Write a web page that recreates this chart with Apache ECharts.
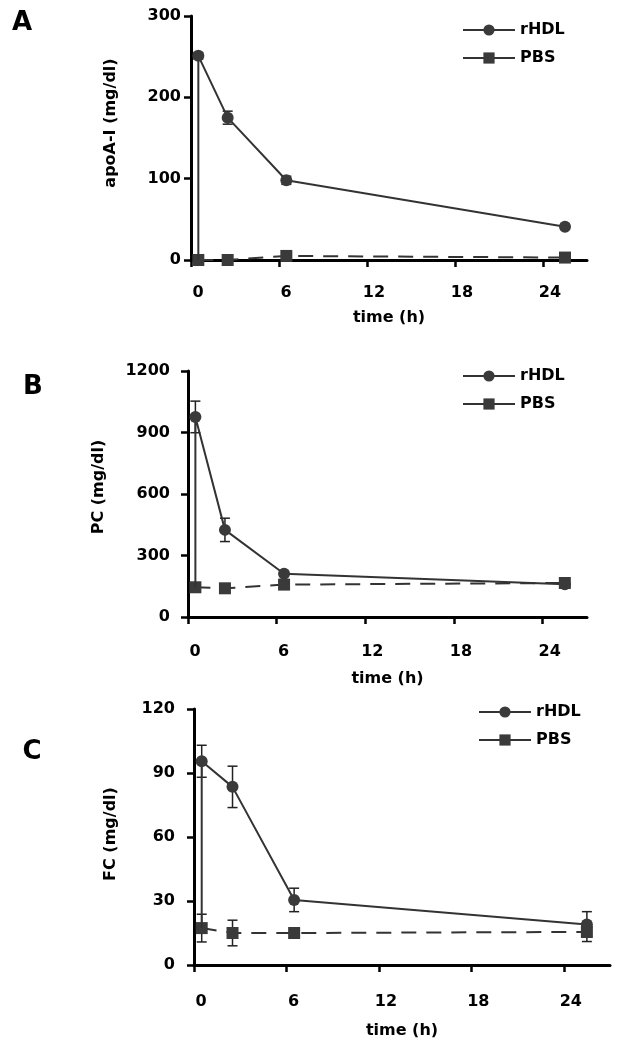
<!DOCTYPE html>
<html>
<head>
<meta charset="utf-8">
<script src="https://cdn.jsdelivr.net/npm/echarts@6/dist/echarts.min.js"></script>
<style>
html,body{margin:0;padding:0;background:#fff;}
#chart{width:625px;height:1050px;}
</style>
</head>
<body>
<div id="chart"></div>
<script>
// ---- data ----
var times = [0.5, 2.5, 6.5, 25.5];
var xTicks = [0, 6, 12, 18, 24];

var apoA_rHDL = [251, 175, 98, 41];
var apoA_rHDL_err = [4, 8, 5, 3];
var apoA_PBS = [0, 0, 5, 3];
var apoA_PBS_err = [0, 0, 1, 1];

var pc_rHDL = [976, 425, 211, 160];
var pc_rHDL_err = [77, 57, 12, 12];
var pc_PBS = [145, 140, 158, 166];
var pc_PBS_err = [10, 8, 8, 10];

var fc_rHDL = [95.5, 83.5, 30.5, 19];
var fc_rHDL_err = [7.5, 9.7, 5.5, 6];
var fc_PBS = [17.3, 15, 15, 15.5];
var fc_PBS_err = [6.5, 6, 1.5, 4.5];

var panelLabels = ['A', 'B', 'C'];
var yNames = ['apoA-I (mg/dl)', 'PC (mg/dl)', 'FC (mg/dl)'];
var yMax = [300, 1200, 120];
var yInterval = [100, 300, 30];
var xName = 'time (h)';

// ---- layout ----
var FONT = 'DejaVu Sans';
var grids = [
  {left: 191, top: 16, width: 396, height: 244},
  {left: 188, top: 371, width: 399, height: 246},
  {left: 194, top: 709, width: 416, height: 256}
];
var yNameGap = [72, 81, 75];
var yNamePad = [[0,0,0,30],[0,0,0,14],[0,0,0,6]];
var yLabelMargin = [10, 18, 19];
var xNameGap = [50, 54, 58];
var xLabelMargin = [25, 27, 29];
var legendPos = [{left: 462, top: 22}, {left: 462, top: 368}, {left: 478, top: 704}];
var labelPos = [{x: 22, y: 23}, {x: 33, y: 387}, {x: 32, y: 752}];

var panels = [
  {r: apoA_rHDL, re: apoA_rHDL_err, p: apoA_PBS, pe: apoA_PBS_err},
  {r: pc_rHDL, re: pc_rHDL_err, p: pc_PBS, pe: pc_PBS_err},
  {r: fc_rHDL, re: fc_rHDL_err, p: fc_PBS, pe: fc_PBS_err}
];

var COLOR = '#333333';
var MARK = '#3a3a3a';

function errRender(params, api) {
  var x = api.value(0), lo = api.value(1), hi = api.value(2);
  var a = api.coord([x, hi]);
  var b = api.coord([x, lo]);
  var w = 5;
  var style = {stroke: '#222', lineWidth: 1.5};
  return {type: 'group', children: [
    {type: 'line', shape: {x1: a[0], y1: a[1], x2: b[0], y2: b[1]}, style: style},
    {type: 'line', shape: {x1: a[0]-w, y1: a[1], x2: a[0]+w, y2: a[1]}, style: style},
    {type: 'line', shape: {x1: b[0]-w, y1: b[1], x2: b[0]+w, y2: b[1]}, style: style}
  ]};
}

var option = {
  animation: false,
  backgroundColor: '#fff',
  grid: grids,
  xAxis: [], yAxis: [], series: [], legend: [], graphic: []
};

grids.forEach(function (g, i) {
  option.xAxis.push({
    type: 'value', gridIndex: i, min: 0, max: 27, interval: 6,
    name: xName, nameLocation: 'middle', nameGap: xNameGap[i],
    nameTextStyle: {fontFamily: FONT, fontWeight: 'bold', fontSize: 16, color: '#000'},
    axisLine: {show: true, lineStyle: {color: '#000', width: 3}},
    axisTick: {show: true, length: 7, lineStyle: {color: '#000', width: 2.5}, customValues: xTicks},
    axisLabel: {fontFamily: FONT, fontWeight: 'bold', fontSize: 16, color: '#000', margin: xLabelMargin[i],
      customValues: xTicks, padding: [0, 0, 0, 14]},
    splitLine: {show: false}
  });
  option.yAxis.push({
    type: 'value', gridIndex: i, min: 0, max: yMax[i], interval: yInterval[i],
    name: yNames[i], nameLocation: 'middle', nameGap: yNameGap[i], nameRotate: 90,
    nameTextStyle: {fontFamily: FONT, fontWeight: 'bold', fontSize: 16, color: '#000', padding: yNamePad[i]},
    axisLine: {show: true, lineStyle: {color: '#000', width: 3}},
    axisTick: {show: true, length: 7, lineStyle: {color: '#000', width: 2.5}},
    axisLabel: {fontFamily: FONT, fontWeight: 'bold', fontSize: 16, color: '#000', margin: yLabelMargin[i],
      formatter: function (v) { return String(v); }},
    splitLine: {show: false}
  });

  var P = panels[i];
  var errData = [];
  times.forEach(function (t, k) {
    errData.push([t, P.r[k] - P.re[k], P.r[k] + P.re[k]]);
    errData.push([t, P.p[k] - P.pe[k], P.p[k] + P.pe[k]]);
  });
  option.series.push({
    type: 'custom', name: 'err' + i, xAxisIndex: i, yAxisIndex: i, z: 2,
    renderItem: errRender, data: errData, silent: true
  });

  var rData = [{value: [times[0], P.p[0]], symbol: 'none'}];
  times.forEach(function (t, k) { rData.push([t, P.r[k]]); });
  option.series.push({
    type: 'line', name: 'rHDL', xAxisIndex: i, yAxisIndex: i, z: 4,
    data: rData, symbol: 'circle', symbolSize: 12,
    lineStyle: {color: COLOR, width: 2},
    itemStyle: {color: MARK}
  });
  option.series.push({
    type: 'line', name: 'PBS', xAxisIndex: i, yAxisIndex: i, z: 3,
    data: times.map(function (t, k) { return [t, P.p[k]]; }),
    symbol: 'rect', symbolSize: 12,
    lineStyle: {color: COLOR, width: 2, type: [15, 10]},
    itemStyle: {color: MARK}
  });

  option.legend.push({
    orient: 'vertical', left: legendPos[i].left, top: legendPos[i].top,
    data: ['rHDL', 'PBS'], itemWidth: 52, itemHeight: 14, itemGap: 12, padding: 0,
    selectedMode: false,
    lineStyle: {type: 'solid', width: 2, color: COLOR},
    textStyle: {fontFamily: FONT, fontWeight: 'bold', fontSize: 16, color: '#000'}
  });

  option.graphic.push({
    type: 'text', x: labelPos[i].x, y: labelPos[i].y,
    style: {text: panelLabels[i], fontFamily: FONT, fontWeight: 'bold', fontSize: 26,
      fill: '#000', align: 'center', verticalAlign: 'middle'}
  });
});

var chart = echarts.init(document.getElementById('chart'), null, {renderer: 'canvas'});
chart.setOption(option);
</script>
</body>
</html>
